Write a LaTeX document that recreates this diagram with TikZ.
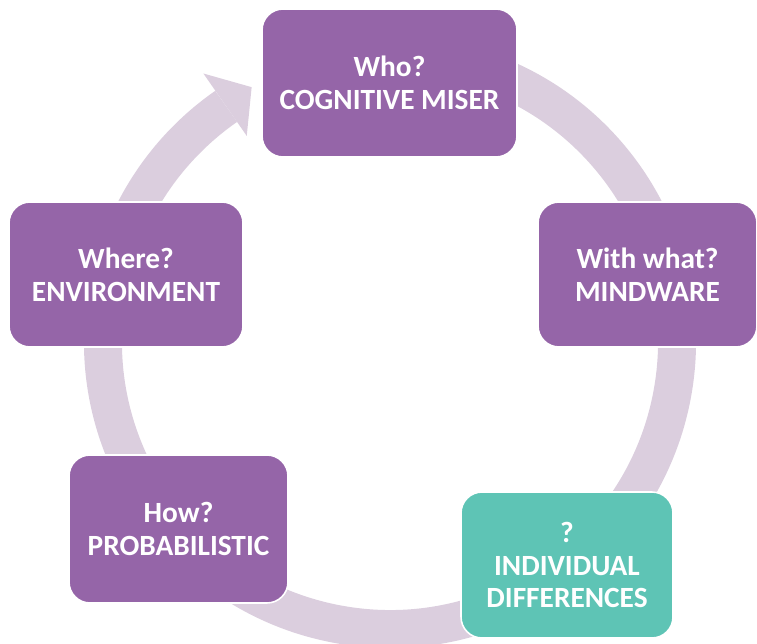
\documentclass[tikz,border=0pt]{standalone}
\usepackage{fontspec}
\setmainfont{Carlito}
\usetikzlibrary{calc}

\definecolor{stagepurple}{RGB}{149,101,168}
\definecolor{stageteal}{RGB}{94,196,181}
\definecolor{ringlilac}{RGB}{219,206,222}

\begin{document}
\begin{tikzpicture}[x=0.02cm,y=0.02cm,
    stage/.style={draw=white,line width=.9pt,fill=stagepurple,rounded corners=0.42cm,
      text=white,align=center,inner sep=0pt,
      font=\bfseries\fontsize{16.7}{18.7}\selectfont},
    ring/.style={ringlilac,line width=0.76cm}]

  \useasboundingbox (0,0) rectangle (757,643);

  %%%% Draw the cycle ring behind the stages %%%%
  \coordinate (hub) at (390,301);
  \draw[ring] ($(hub)+(80:287)$) arc[start angle=80,end angle=-235.2,radius=287];
  %% arrow head at the end of the ring
  \fill[ringlilac] ($(hub)+(124.8:327)$) -- ($(hub)+(118.5:290)$)
    -- ($(hub)+(124.8:251)$) -- cycle;

  %%%% The five stages %%%%
  \node[stage,minimum width=5.1cm,minimum height=2.96cm] (who) at (389.5,560)
    {Who?\\COGNITIVE MISER};
  \node[stage,minimum width=4.38cm,minimum height=2.9cm] (what) at (647.5,368.5)
    {With what?\\MINDWARE};
  \node[stage,fill=stageteal,minimum width=4.24cm,minimum height=2.92cm] (diff) at (567,78)
    {?\\INDIVIDUAL\\DIFFERENCES};
  \node[stage,minimum width=4.38cm,minimum height=2.96cm] (how) at (178.5,114)
    {How?\\PROBABILISTIC};
  \node[stage,minimum width=4.68cm,minimum height=2.9cm] (where) at (126,368.5)
    {Where?\\ENVIRONMENT};

\end{tikzpicture}
\end{document}
